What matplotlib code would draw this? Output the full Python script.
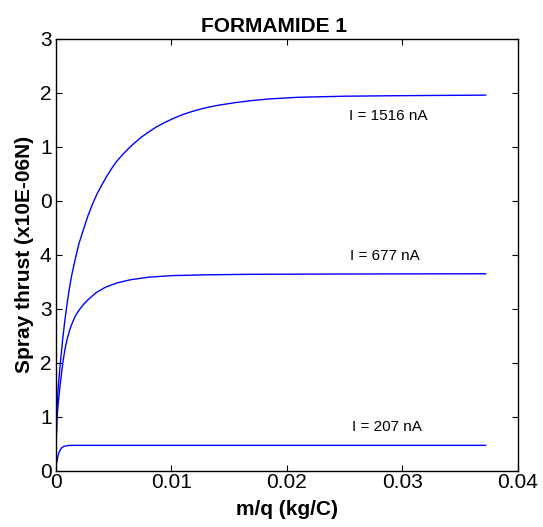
import matplotlib
matplotlib.use("Agg")
import matplotlib.pyplot as plt

plt.rcParams['font.family'] = ['Liberation Sans', 'DejaVu Sans']

# Spray thrust curves vs. specific charge ratio m/q for three emission currents
mq_1516 = [0, 0.00005, 0.0001, 0.0002, 0.0004, 0.0006, 0.0008, 0.0010, 0.0012,
           0.0014, 0.0017, 0.0020, 0.0024, 0.0028, 0.0032, 0.0036, 0.0040,
           0.0044, 0.0049, 0.0053, 0.0058, 0.0063, 0.0068, 0.0074, 0.0080,
           0.0087, 0.0095, 0.0102, 0.0110, 0.0117, 0.0125, 0.0132, 0.0140,
           0.0155, 0.0170, 0.0185, 0.0210, 0.0250, 0.0300, 0.0372]
thrust_1516 = [0, 0.6, 1.0, 1.5, 2.0, 2.43, 2.8, 3.12, 3.4,
               3.64, 3.93, 4.20, 4.47, 4.73, 4.95, 5.14, 5.30,
               5.45, 5.62, 5.74, 5.86, 5.97, 6.07, 6.18, 6.27,
               6.37, 6.46, 6.53, 6.60, 6.65, 6.70, 6.735, 6.77,
               6.82, 6.86, 6.89, 6.92, 6.94, 6.95, 6.96]

mq_677 = [0, 0.00005, 0.0001, 0.0002, 0.0003, 0.0004, 0.0005, 0.00065, 0.0008,
          0.0010, 0.0012, 0.0014, 0.0017, 0.0020, 0.0024, 0.0028, 0.0035,
          0.0043, 0.0053, 0.0065, 0.0080, 0.0100, 0.0130, 0.0170, 0.0250,
          0.0372]
thrust_677 = [0, 0.6, 0.95, 1.2, 1.42, 1.62, 1.8, 2.05, 2.25,
              2.45, 2.6, 2.72, 2.87, 2.97, 3.08, 3.17, 3.30,
              3.40, 3.48, 3.54, 3.585, 3.615, 3.63, 3.64, 3.645,
              3.65]

mq_207 = [0, 0.00005, 0.0001, 0.0002, 0.0003, 0.0005, 0.0007, 0.0010,
          0.0014, 0.0020, 0.0372]
thrust_207 = [0, 0.10, 0.17, 0.28, 0.35, 0.42, 0.45, 0.465,
              0.47, 0.47, 0.47]

series = [
    (mq_1516, thrust_1516, "I = 1516 nA", 0.0288, 6.58),
    (mq_677, thrust_677, "I = 677 nA", 0.0285, 3.97),
    (mq_207, thrust_207, "I = 207 nA", 0.0287, 0.815),
]

x_ticks = [0, 0.01, 0.02, 0.03, 0.04]
x_tick_labels = ["0", "0.01", "0.02", "0.03", "0.04"]
y_ticks = [0, 1, 2, 3, 4, 5, 6, 7, 8]
y_tick_labels = ["0", "1", "2", "3", "4", "0", "1", "2", "3"]

fig = plt.figure(figsize=(5.43, 5.27), dpi=100)
ax = fig.add_axes([0.1026, 0.1068, 0.8514, 0.8192])

for mq, thrust, label, lx, ly in series:
    ax.plot(mq, thrust, color=(0, 0, 1), linewidth=1.0)
    ax.text(lx, ly, label, ha="center", va="center", fontsize=11, color="black")

ax.set_xlim(0, 0.04)
ax.set_ylim(0, 8)
ax.set_xticks(x_ticks)
ax.set_xticklabels(x_tick_labels)
ax.set_yticks(y_ticks)
ax.set_yticklabels(y_tick_labels)

ax.tick_params(direction="in", length=4, width=0.8, top=True, right=True,
               labelsize=15)
ax.tick_params(axis="x", pad=1.5)
ax.tick_params(axis="y", pad=3)
for s in ax.spines.values():
    s.set_linewidth(1.0)
    s.set_color("black")

ax.set_title("FORMAMIDE 1", fontsize=15, fontweight="bold", pad=5, x=0.472)
ax.set_xlabel("m/q (kg/C)", fontsize=15, fontweight="bold", labelpad=6)
ax.set_ylabel("Spray thrust (x10E-06N)", fontsize=15, fontweight="bold",
              labelpad=4)

fig.savefig("out.png", dpi=100)
